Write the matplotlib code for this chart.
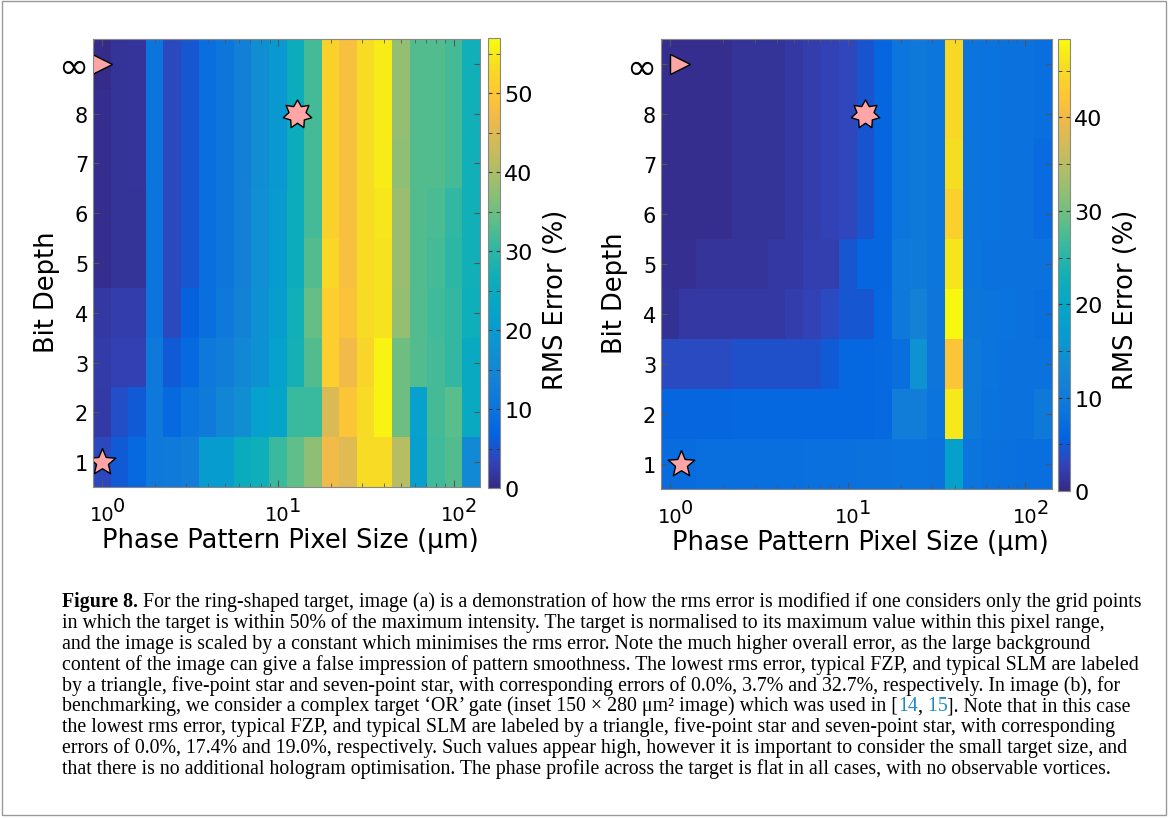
import numpy as np
import matplotlib.pyplot as plt
from matplotlib.colors import LinearSegmentedColormap
from matplotlib.path import Path
from matplotlib.patches import Rectangle
from matplotlib.text import Annotation
from matplotlib.ticker import MultipleLocator, LogLocator, NullFormatter

plt.rcParams['font.family'] = 'DejaVu Sans'

# MATLAB parula, sampled every 4th entry of the 64-colour table
parula = LinearSegmentedColormap.from_list('parula', [
    (0.2081, 0.1663, 0.5292), (0.1959, 0.2645, 0.7279), (0.0117, 0.3875, 0.8820),
    (0.0498, 0.4586, 0.8641), (0.0779, 0.5040, 0.8384), (0.0641, 0.5570, 0.8240),
    (0.0265, 0.6137, 0.8135), (0.0228, 0.6535, 0.7768), (0.0590, 0.6838, 0.7254),
    (0.1801, 0.7177, 0.6424), (0.3482, 0.7424, 0.5473), (0.5300, 0.7491, 0.4661),
    (0.6834, 0.7435, 0.4044), (0.8185, 0.7327, 0.3498), (0.9450, 0.7261, 0.2886),
    (0.9955, 0.7861, 0.1967), (0.9626, 0.8705, 0.1309), (0.9763, 0.9831, 0.0538)])

pixel_size = [1.0, 1.26, 1.58, 2.0, 2.51, 3.16, 3.98, 5.01, 6.31, 7.94, 10.0,
              12.6, 15.8, 20.0, 25.1, 31.6, 39.8, 50.1, 63.1, 79.4, 100.0, 126.0]
bit_depth = [1, 2, 3, 4, 5, 6, 7, 8, 9]
bit_labels = ['1', '2', '3', '4', '5', '6', '7', '8', '∞']
decades = [1, 10, 100]
decade_exp = ['0', '1', '2']

# (a) ring-shaped target, RMS error (%), rows = bit depth 1..8, inf
err_a = [
    [4.0, 6.0, 8.0, 11.0, 11.5, 12.5, 20.0, 20.0, 25.5, 26.5, 31.0, 34.0, 37.5, 47.0, 45.0, 53.0, 53.0, 41.0, 21.0, 31.5, 33.0, 15.5],
    [2.2, 4.5, 6.0, 11.0, 8.0, 10.0, 11.5, 14.5, 16.5, 21.5, 22.5, 31.0, 31.0, 44.5, 49.5, 53.0, 56.0, 35.0, 21.5, 32.0, 33.5, 24.5],
    [2.3, 3.0, 3.0, 11.0, 6.0, 8.0, 11.0, 12.5, 15.0, 17.5, 21.5, 27.5, 33.0, 51.0, 47.0, 52.0, 56.0, 35.0, 33.0, 32.0, 30.5, 24.5],
    [2.0, 2.5, 2.5, 10.0, 4.0, 6.5, 9.0, 11.0, 14.0, 17.5, 20.5, 27.0, 34.5, 51.0, 49.0, 53.0, 54.0, 38.0, 33.0, 31.5, 30.5, 26.5],
    [0.5, 1.2, 1.2, 10.0, 4.0, 5.5, 9.0, 10.5, 13.0, 17.0, 20.0, 26.0, 33.0, 52.5, 48.5, 53.0, 54.0, 38.5, 33.0, 32.0, 30.0, 27.0],
    [0.5, 1.2, 1.2, 10.0, 4.0, 5.5, 9.0, 10.5, 13.0, 17.0, 19.5, 26.0, 32.0, 51.5, 48.5, 53.0, 54.5, 38.5, 33.0, 32.5, 30.5, 27.0],
    [0.5, 1.2, 1.4, 10.0, 4.0, 5.5, 9.0, 10.5, 13.0, 16.5, 19.0, 26.0, 32.0, 51.5, 48.5, 53.0, 55.0, 37.5, 33.0, 33.0, 32.0, 27.0],
    [0.5, 1.2, 1.4, 10.0, 4.0, 5.5, 9.0, 10.5, 13.0, 16.5, 19.0, 26.0, 32.0, 51.5, 48.5, 53.0, 55.0, 38.0, 33.0, 33.0, 32.0, 27.0],
    [0.3, 1.2, 1.4, 10.0, 4.0, 5.5, 9.0, 10.5, 13.0, 16.5, 19.0, 26.0, 32.0, 51.5, 48.5, 53.0, 55.0, 38.0, 33.0, 33.0, 32.0, 27.0],
]
# (b) 'OR' gate target
err_b = [
    [7.3, 7.3, 7.4, 7.5, 7.5, 7.6, 7.6, 7.7, 7.8, 7.8, 7.9, 8.0, 8.0, 8.2, 8.3, 8.0, 18.5, 8.5, 8.0, 7.8, 7.7, 7.6],
    [6.4, 6.4, 6.4, 6.4, 6.5, 6.5, 6.5, 6.5, 6.5, 6.6, 6.6, 6.6, 6.7, 10.5, 10.5, 8.5, 46.5, 9.5, 8.2, 8.0, 8.0, 9.5],
    [3.5, 3.5, 3.5, 3.5, 4.0, 4.0, 4.0, 4.0, 4.0, 5.0, 6.5, 6.5, 6.7, 7.5, 15.0, 9.0, 42.0, 9.5, 8.5, 8.0, 8.0, 8.0],
    [0.8, 1.6, 1.6, 1.6, 1.6, 1.6, 1.6, 2.2, 2.7, 3.5, 4.6, 4.6, 6.5, 9.5, 11.5, 9.0, 48.0, 9.0, 8.5, 8.2, 8.0, 7.5],
    [0.6, 0.6, 1.2, 1.2, 1.2, 1.2, 1.7, 1.7, 2.4, 2.4, 4.6, 6.3, 6.3, 9.3, 10.0, 8.8, 46.0, 8.5, 8.0, 8.0, 8.0, 8.0],
    [0.4, 0.4, 0.4, 0.4, 1.0, 1.0, 1.0, 1.6, 2.1, 2.7, 3.2, 4.5, 6.3, 8.8, 9.5, 8.8, 43.5, 8.5, 8.2, 8.0, 8.0, 7.0],
    [0.4, 0.4, 0.4, 0.4, 1.0, 1.0, 1.0, 1.6, 2.1, 2.7, 3.2, 4.5, 6.3, 8.8, 9.5, 8.8, 45.5, 8.5, 8.2, 8.0, 8.0, 7.0],
    [0.4, 0.4, 0.4, 0.4, 1.0, 1.0, 1.0, 1.6, 2.1, 2.7, 3.2, 4.5, 6.3, 8.8, 9.5, 8.8, 44.5, 8.5, 8.2, 8.0, 8.0, 7.5],
    [0.4, 0.4, 0.4, 0.4, 1.0, 1.0, 1.0, 1.6, 2.1, 2.7, 3.2, 4.5, 6.3, 8.8, 9.5, 8.8, 44.5, 8.5, 8.2, 8.0, 8.0, 7.5],
]
vmax_a, vmax_b = 57.0, 48.4

# labelled points: lowest rms error, typical FZP, typical SLM  (x, bit depth)
best_a, fzp_a, slm_a = (1.0, 9), (1.0, 1), (12.9, 8)
best_b, fzp_b, slm_b = (1.14, 9), (1.15, 1), (12.6, 8)


def star(n, inner):
    ang = np.pi / 2 + np.arange(2 * n) * np.pi / n
    r = np.where(np.arange(2 * n) % 2 == 0, 1.0, inner)
    v = np.column_stack([r * np.cos(ang), r * np.sin(ang)])
    return Path(np.vstack([v, v[:1]]), closed=True)

star5 = star(5, 0.45)
star7 = star(7, 0.6)


def cell_edges(c):
    lc = np.log10(c)
    mid = (lc[:-1] + lc[1:]) / 2
    return 10 ** np.concatenate([[2 * lc[0] - mid[0]], mid, [2 * lc[-1] - mid[-1]]])


W, H = 1171, 820
fig = plt.figure(figsize=(W / 100, H / 100), dpi=100)

def box(x0, y0, x1, y1):
    return [x0 / W, 1 - y1 / H, (x1 - x0) / W, (y1 - y0) / H]

panels = [
    (err_a, vmax_a, best_a, fzp_a, slm_a, box(93, 40, 480, 488), box(488, 39, 500, 489), 0.42),
    (err_b, vmax_b, best_b, fzp_b, slm_b, box(661, 40, 1052, 490), box(1058, 40, 1070, 492), 0.425),
]

xe = cell_edges(pixel_size)
ye = np.arange(0.5, len(bit_depth) + 0.5 + 0.1, 1.0)
pink = '#ffa5a5'
pt = 0.72  # points per pixel at 100 dpi
for err, vmax, best, fzp, slm, ab, cb, lab_y in panels:
    ax = fig.add_axes(ab)
    m = ax.pcolormesh(xe, ye, np.array(err), cmap=parula, vmin=0, vmax=vmax)
    ax.set_xscale('log')
    ax.set_xlim(xe[0], xe[-1])
    ax.set_ylim(ye[0], ye[-1])
    ax.set_yticks(bit_depth)
    ax.set_yticklabels(bit_labels)
    ax.set_xticks(decades)
    ax.xaxis.set_major_formatter(NullFormatter())
    ax.xaxis.set_minor_locator(LogLocator(base=10, subs=np.arange(2, 10)))
    ax.xaxis.set_minor_formatter(NullFormatter())
    ax.tick_params(axis='both', which='both', direction='in', top=True, right=True,
                   color='#555555')
    ax.tick_params(axis='y', labelsize=15, length=4)
    ax.tick_params(axis='x', which='major', length=5)
    ax.tick_params(axis='x', which='minor', length=3)
    ax.get_yticklabels()[-1].set_fontsize(26)
    for s in ax.spines.values():
        s.set_color('#888888')
        s.set_linewidth(0.8)

    # MATLAB-style 10^n labels with a full-size exponent
    for d, e in zip(decades, decade_exp):
        base = ax.annotate('10', xy=(d, 0), xycoords=('data', 'axes fraction'),
                           xytext=(0, -18 * pt), textcoords='offset points',
                           ha='center', va='top', fontsize=14)
        ax.annotate(e, xy=(1, 1), xycoords=base, xytext=(-1 * pt, 9 * pt),
                    textcoords='offset points', ha='left', va='top', fontsize=14)

    ax.set_xlabel('Phase Pattern Pixel Size (μm)', fontsize=18.5)
    ax.xaxis.set_label_coords(0.51, -0.09)
    ax.set_ylabel('Bit Depth', fontsize=18.5)
    ax.yaxis.set_label_coords(-0.085, 0.437)

    ax.plot(*best, marker='>', ms=14, mfc=pink, mec='black', mew=1.0, ls='none')
    ax.plot(*fzp, marker=star5, ms=20, mfc=pink, mec='black', mew=1.0, ls='none')
    ax.plot(*slm, marker=star7, ms=21, mfc=pink, mec='black', mew=1.0, ls='none')

    cax = fig.add_axes(cb)
    c = fig.colorbar(m, cax=cax)
    c.outline.set_edgecolor('#888888')
    c.outline.set_linewidth(0.8)
    c.set_ticks(np.arange(0, vmax, 10))
    cax.yaxis.set_minor_locator(MultipleLocator(5))
    cax.tick_params(which='both', direction='in', left=True, right=True,
                    color='#333333', length=3, labelsize=16, pad=3)
    c.set_label('RMS Error (%)', fontsize=18.5)
    cax.yaxis.set_label_coords(4.6, lab_y)

# figure caption
cap_font = 'Liberation Serif'
cap_size = 14.3
link = '#1f8ac0'
caption = [
    [('Figure 8.', 'black', 'bold'),
     (' For the ring-shaped target, image (a) is a demonstration of how the rms error is modified if one considers only the grid points', 'black', 'normal')],
    [('in which the target is within 50% of the maximum intensity. The target is normalised to its maximum value within this pixel range,', 'black', 'normal')],
    [('and the image is scaled by a constant which minimises the rms error. Note the much higher overall error, as the large background', 'black', 'normal')],
    [('content of the image can give a false impression of pattern smoothness. The lowest rms error, typical FZP, and typical SLM are labeled', 'black', 'normal')],
    [('by a triangle, five-point star and seven-point star, with corresponding errors of 0.0%, 3.7% and 32.7%, respectively. In image (b), for', 'black', 'normal')],
    [('benchmarking, we consider a complex target ‘OR’ gate (inset 150 × 280 μm² image) which was used in [', 'black', 'normal'),
     ('14', link, 'normal'), (',', 'black', 'normal'), (' 15', link, 'normal'),
     (']. Note that in this case', 'black', 'normal')],
    [('the lowest rms error, typical FZP, and typical SLM are labeled by a triangle, five-point star and seven-point star, with corresponding', 'black', 'normal')],
    [('errors of 0.0%, 17.4% and 19.0%, respectively. Such values appear high, however it is important to consider the small target size, and', 'black', 'normal')],
    [('that there is no additional hologram optimisation. The phase profile across the target is flat in all cases, with no observable vortices.', 'black', 'normal')],
]
y0, dy = 607, 20.9
for i, pieces in enumerate(caption):
    text, col, wt = pieces[0]
    prev = fig.text(62 / W, 1 - (y0 + i * dy) / H, text, color=col, fontweight=wt,
                    family=cap_font, fontsize=cap_size, va='baseline', ha='left')
    for text, col, wt in pieces[1:]:
        prev = fig.add_artist(Annotation(text, xy=(1, 0), xycoords=prev, color=col,
                                         fontweight=wt, family=cap_font, fontsize=cap_size,
                                         va='bottom', ha='left'))

fig.add_artist(Rectangle((2 / W, 4 / H), 1164 / W, 814 / H, transform=fig.transFigure,
                         fill=False, edgecolor='#999999', linewidth=1.0))

fig.savefig('out.png', dpi=100)
